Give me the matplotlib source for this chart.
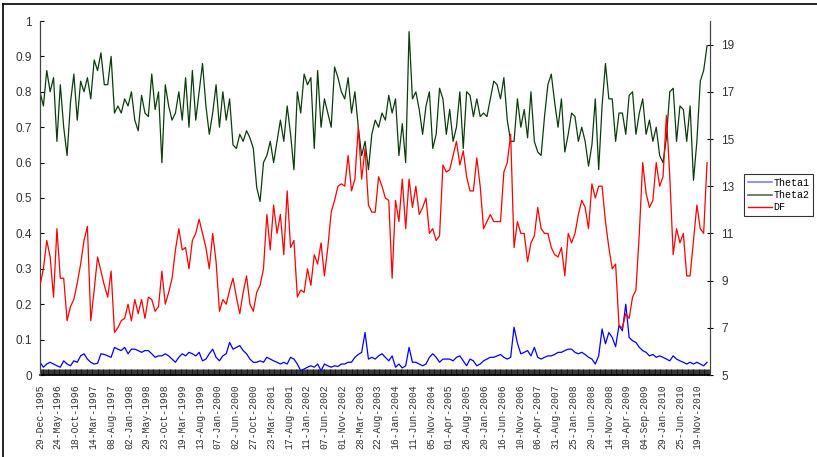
import matplotlib
matplotlib.use("Agg")
import matplotlib.pyplot as plt
from matplotlib.lines import Line2D
from matplotlib.ticker import FixedLocator, MultipleLocator, FormatStrFormatter
import pandas as pd

# weekly data, read every 4th week starting 29-Dec-1995
start_date = "1995-12-29"
n_weeks = 792
step = 4

theta1 = [0.036, 0.022, 0.031, 0.036, 0.031, 0.026, 0.022, 0.040, 0.031, 0.026,
          0.040, 0.036, 0.054, 0.060, 0.045, 0.036, 0.031, 0.033, 0.060, 0.058,
          0.054, 0.050, 0.078, 0.073, 0.069, 0.078, 0.060, 0.073, 0.073, 0.069,
          0.064, 0.069, 0.069, 0.060, 0.050, 0.054, 0.054, 0.060, 0.054, 0.045,
          0.036, 0.050, 0.060, 0.054, 0.064, 0.060, 0.054, 0.064, 0.040, 0.045,
          0.060, 0.073, 0.050, 0.040, 0.054, 0.060, 0.092, 0.073, 0.078, 0.083,
          0.069, 0.060, 0.045, 0.036, 0.036, 0.040, 0.036, 0.050, 0.045, 0.040,
          0.036, 0.031, 0.036, 0.031, 0.050, 0.045, 0.031, 0.012, 0.017, 0.022,
          0.026, 0.022, 0.031, 0.012, 0.031, 0.026, 0.022, 0.026, 0.024, 0.031,
          0.031, 0.036, 0.036, 0.050, 0.058, 0.064, 0.120, 0.045, 0.050, 0.045,
          0.054, 0.060, 0.050, 0.040, 0.054, 0.022, 0.031, 0.020, 0.026, 0.078,
          0.036, 0.036, 0.031, 0.026, 0.031, 0.050, 0.060, 0.050, 0.036, 0.045,
          0.045, 0.045, 0.040, 0.050, 0.054, 0.040, 0.026, 0.045, 0.040, 0.026,
          0.031, 0.040, 0.045, 0.050, 0.050, 0.054, 0.058, 0.050, 0.045, 0.050,
          0.135, 0.090, 0.060, 0.064, 0.069, 0.054, 0.078, 0.050, 0.045, 0.050,
          0.054, 0.054, 0.058, 0.064, 0.064, 0.069, 0.073, 0.073, 0.064, 0.060,
          0.064, 0.058, 0.050, 0.045, 0.031, 0.054, 0.130, 0.088, 0.120, 0.106,
          0.080, 0.140, 0.125, 0.200, 0.106, 0.097, 0.092, 0.078, 0.069, 0.064,
          0.054, 0.058, 0.050, 0.054, 0.050, 0.045, 0.040, 0.054, 0.045, 0.040,
          0.036, 0.031, 0.036, 0.031, 0.036, 0.031, 0.026, 0.036]

theta2 = [0.80, 0.76, 0.86, 0.80, 0.84, 0.66, 0.82, 0.70, 0.62, 0.77,
          0.85, 0.72, 0.83, 0.80, 0.84, 0.78, 0.89, 0.86, 0.91, 0.82,
          0.82, 0.90, 0.74, 0.76, 0.74, 0.78, 0.76, 0.80, 0.72, 0.69,
          0.79, 0.74, 0.73, 0.85, 0.75, 0.80, 0.60, 0.82, 0.76, 0.72,
          0.74, 0.80, 0.72, 0.84, 0.70, 0.86, 0.72, 0.80, 0.88, 0.76,
          0.68, 0.74, 0.82, 0.70, 0.80, 0.72, 0.78, 0.65, 0.64, 0.68,
          0.66, 0.69, 0.67, 0.64, 0.53, 0.49, 0.60, 0.62, 0.66, 0.60,
          0.66, 0.72, 0.66, 0.76, 0.68, 0.58, 0.80, 0.74, 0.85, 0.82,
          0.84, 0.64, 0.86, 0.70, 0.78, 0.74, 0.70, 0.87, 0.84, 0.80,
          0.78, 0.84, 0.74, 0.80, 0.70, 0.62, 0.66, 0.58, 0.68, 0.72,
          0.70, 0.74, 0.72, 0.79, 0.74, 0.78, 0.62, 0.71, 0.60, 0.97,
          0.78, 0.80, 0.75, 0.68, 0.76, 0.80, 0.64, 0.68, 0.81, 0.78,
          0.68, 0.75, 0.66, 0.70, 0.80, 0.64, 0.80, 0.79, 0.73, 0.78,
          0.73, 0.74, 0.73, 0.78, 0.83, 0.82, 0.78, 0.84, 0.72, 0.66,
          0.66, 0.78, 0.70, 0.75, 0.67, 0.80, 0.66, 0.63, 0.62, 0.73,
          0.82, 0.85, 0.77, 0.70, 0.78, 0.63, 0.68, 0.74, 0.73, 0.66,
          0.70, 0.66, 0.59, 0.65, 0.78, 0.58, 0.76, 0.88, 0.78, 0.78,
          0.66, 0.74, 0.74, 0.68, 0.79, 0.80, 0.68, 0.74, 0.78, 0.68,
          0.72, 0.66, 0.70, 0.62, 0.60, 0.67, 0.80, 0.81, 0.66, 0.76,
          0.75, 0.66, 0.76, 0.55, 0.66, 0.83, 0.86, 0.93]

# degrees of freedom, right axis
df = [8.8, 9.5, 10.7, 10.0, 8.3, 11.2, 9.1, 9.1, 7.3, 7.9,
      8.2, 8.9, 9.7, 10.7, 11.3, 7.3, 8.6, 10.0, 9.4, 8.8,
      8.3, 9.4, 6.8, 7.0, 7.3, 7.4, 8.0, 7.3, 8.2, 7.6,
      8.2, 7.4, 8.3, 8.2, 7.7, 7.9, 9.4, 8.0, 8.5, 9.1,
      10.3, 11.2, 10.3, 10.4, 9.5, 10.7, 11.0, 11.6, 11.0, 10.4,
      9.5, 11.0, 9.8, 7.7, 8.2, 8.0, 8.6, 9.1, 8.3, 7.6,
      8.5, 9.2, 8.0, 7.7, 8.5, 8.8, 9.5, 11.8, 10.3, 12.2,
      11.0, 11.8, 10.1, 12.8, 10.4, 10.7, 8.3, 8.6, 8.5, 9.5,
      8.8, 10.1, 9.7, 10.6, 9.2, 10.4, 11.9, 12.4, 13.0, 13.1,
      13.0, 14.3, 12.8, 13.3, 15.5, 13.3, 14.6, 12.2, 11.9, 11.9,
      13.4, 13.0, 12.5, 12.4, 9.1, 12.4, 11.5, 13.3, 11.2, 13.3,
      12.1, 13.0, 11.8, 12.1, 12.5, 11.0, 11.2, 10.7, 10.9, 13.9,
      13.6, 13.7, 14.3, 14.9, 13.9, 14.5, 13.4, 12.8, 12.8, 14.2,
      13.0, 11.2, 11.5, 11.8, 11.5, 11.5, 11.5, 13.6, 14.0, 15.2,
      10.4, 11.5, 11.0, 11.0, 9.8, 10.6, 10.9, 12.1, 11.2, 11.0,
      11.0, 10.4, 10.1, 10.0, 10.4, 9.2, 11.0, 10.6, 11.0, 11.8,
      12.4, 12.1, 11.2, 13.1, 12.5, 13.0, 13.0, 11.5, 10.4, 9.5,
      9.7, 7.1, 7.0, 7.6, 7.4, 8.3, 8.6, 11.0, 14.0, 12.7,
      12.1, 12.4, 14.0, 13.0, 13.4, 16.0, 13.4, 10.1, 11.2, 10.6,
      11.0, 9.2, 9.2, 10.7, 12.2, 11.2, 11.0, 14.0]

label_every = 21

dates = pd.date_range(start_date, periods=n_weeks, freq="W-FRI")
weeks = list(range(0, len(theta1) * step, step))
label_pos = list(range(0, n_weeks, label_every))
label_txt = [dates[k].strftime("%d-%b-%Y") for k in label_pos]

W, H = 817, 457
fig = plt.figure(figsize=(W / 100, H / 100), dpi=100)
ax = fig.add_axes([40 / W, 1 - 375 / H, 670 / W, 354 / H])
ax2 = ax.twinx()

ax.plot(weeks, theta1, color="#0000ff", lw=0.9, zorder=2)
ax.plot(weeks, theta2, color="#0b3d0b", lw=0.9, zorder=3)
ax2.plot(weeks, df, color="#ff0000", lw=0.9, zorder=4)

ax.set_xlim(0, 791.5)
ax.set_ylim(0, 1)
ax2.set_ylim(5, 20)
ax.yaxis.set_major_locator(MultipleLocator(0.1))
ax.yaxis.set_major_formatter(FormatStrFormatter("%g"))
ax2.set_yticks(range(5, 20, 2))

ax.xaxis.set_major_locator(FixedLocator(label_pos))
ax.set_xticklabels(label_txt, rotation=90, fontsize=7, family="Liberation Mono",
                   color="#333333")
ax.xaxis.set_minor_locator(MultipleLocator(1))
ax.tick_params(axis="x", which="both", direction="in", length=4, width=0.6,
               color="#111111", pad=7)
ax.tick_params(axis="y", direction="in", length=3, labelsize=8.5, pad=6,
               labelcolor="#333333")
ax2.tick_params(axis="y", direction="inout", length=4, labelsize=8.5, pad=6,
                labelcolor="#333333")
for t in ax.get_yticklabels() + ax2.get_yticklabels():
    t.set_family("Liberation Sans")

for a in (ax, ax2):
    a.spines["top"].set_visible(False)
    a.spines["left"].set_color("#444444")
    a.spines["right"].set_color("#444444")
    a.spines["bottom"].set_linewidth(1.2)
ax2.spines["bottom"].set_visible(False)

handles = [Line2D([], [], color="#7f7fff", lw=1.2),
           Line2D([], [], color="#4f6f4f", lw=1.2),
           Line2D([], [], color="#ff0000", lw=1.0)]
leg = fig.legend(handles, ["Theta1", "Theta2", "DF"], loc="upper left",
                 bbox_to_anchor=(744 / W, 1 - 174 / H), frameon=True,
                 fancybox=False, prop={"family": "Liberation Mono", "size": 7.2},
                 handlelength=2.4, handletextpad=0.2, borderpad=0.35,
                 labelspacing=0.25, borderaxespad=0)
leg.get_frame().set_edgecolor("black")
leg.get_frame().set_linewidth(0.8)

# outer frame of the picture
fig.add_artist(Line2D([3.5 / W, 3.5 / W], [0, 1 - 3.5 / H], color="black", lw=1.2))
fig.add_artist(Line2D([3.5 / W, 1], [1 - 3.5 / H, 1 - 3.5 / H], color="black", lw=1.2))

fig.savefig("out.png", dpi=100)
